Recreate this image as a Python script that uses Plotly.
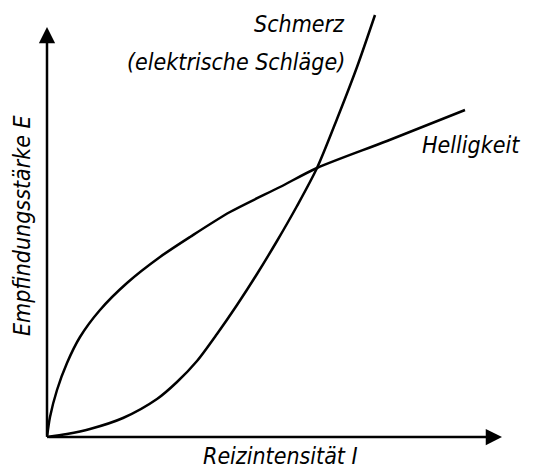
import plotly.graph_objects as go

# Reizintensität I (x) und Empfindungsstärke E (y)
hell_x = [0, 3, 10, 20, 33, 53, 80, 113, 143, 183, 233, 270, 340, 418]
hell_y = [0, 20, 47, 74, 100, 127, 154, 180, 200, 225, 250, 269, 296, 327]

schmerz_x = [0, 20, 43, 76, 110, 130, 150, 170, 190, 210, 230, 250, 270, 290, 310, 328]
schmerz_y = [0, 3, 8, 19, 38, 55, 76, 103, 132, 163, 196, 231, 269, 318, 370, 422]

x_axis_end = 455
y_axis_end = 410

font = dict(family="DejaVu Sans Condensed, DejaVu Sans", size=23, color="black",
            style="italic")
line = dict(color="black", width=2.5, shape="spline", smoothing=0.8)

fig = go.Figure()
fig.add_trace(go.Scatter(x=hell_x, y=hell_y, mode="lines", line=line, showlegend=False))
fig.add_trace(go.Scatter(x=schmerz_x, y=schmerz_y, mode="lines", line=line, showlegend=False))

# Achsen mit Pfeilspitzen
for tip in [(x_axis_end, 0), (0, y_axis_end)]:
    fig.add_annotation(x=tip[0], y=tip[1], ax=0, ay=0, xref="x", yref="y",
                       axref="x", ayref="y", text="", showarrow=True,
                       arrowhead=2, arrowsize=1.3, arrowwidth=2.5, arrowcolor="black")

fig.add_annotation(x=300, y=413, text="Schmerz", showarrow=False, xanchor="right", font=font)
fig.add_annotation(x=300, y=375, text="(elektrische Schläge)", showarrow=False,
                   xanchor="right", font=font)
fig.add_annotation(x=373, y=292, text="Helligkeit", showarrow=False, xanchor="left", font=font)
fig.add_annotation(x=233, y=-19, text="Reizintensität I", showarrow=False, font=font)
fig.add_annotation(x=-25, y=212, text="Empfindungsstärke E", showarrow=False,
                   textangle=-90, font=font)

# Seite hat 8px Rand, daher Bereiche verschoben
fig.update_xaxes(range=[-39, 494], visible=False)
fig.update_yaxes(range=[-39, 429], visible=False)
fig.update_layout(width=533, height=468, margin=dict(l=0, r=0, t=0, b=0),
                  plot_bgcolor="white", paper_bgcolor="white")

fig.write_html("out.html")
